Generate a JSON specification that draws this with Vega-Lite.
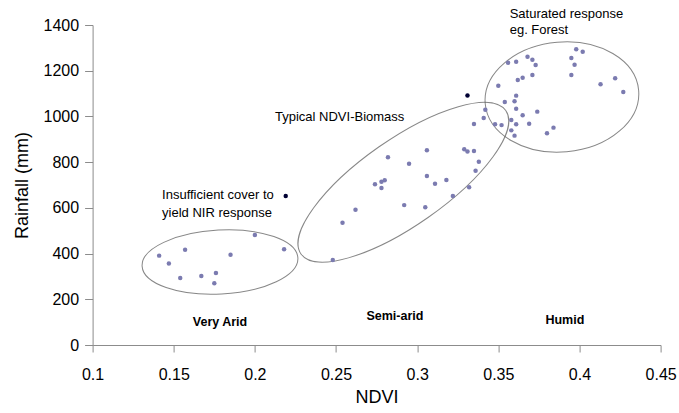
{
  "$schema": "https://vega.github.io/schema/vega-lite/v6.json",
  "width": 568,
  "height": 320,
  "autosize": "none",
  "padding": {"left": 92.6, "top": 25, "right": 18.4, "bottom": 68},
  "background": "white",
  "config": {
    "view": {"stroke": null},
    "font": "Liberation Sans",
    "axis": {
      "grid": false,
      "domainColor": "#8c8c8c",
      "tickColor": "#8c8c8c",
      "labelColor": "#000000",
      "titleColor": "#000000",
      "labelFont": "Liberation Sans",
      "titleFont": "Liberation Sans",
      "labelFontSize": 16,
      "titleFontSize": 18,
      "titleFontWeight": "normal",
      "labelOverlap": false,
      "labelFlush": false
    }
  },
  "datasets": {
    "samples": [
      {"ndvi": 0.141, "rainfall": 391, "kind": "sample"},
      {"ndvi": 0.147, "rainfall": 357, "kind": "sample"},
      {"ndvi": 0.157, "rainfall": 417, "kind": "sample"},
      {"ndvi": 0.154, "rainfall": 293, "kind": "sample"},
      {"ndvi": 0.167, "rainfall": 302, "kind": "sample"},
      {"ndvi": 0.176, "rainfall": 315, "kind": "sample"},
      {"ndvi": 0.175, "rainfall": 270, "kind": "sample"},
      {"ndvi": 0.185, "rainfall": 395, "kind": "sample"},
      {"ndvi": 0.2, "rainfall": 481, "kind": "sample"},
      {"ndvi": 0.218, "rainfall": 419, "kind": "sample"},
      {"ndvi": 0.248, "rainfall": 372, "kind": "sample"},
      {"ndvi": 0.254, "rainfall": 535, "kind": "sample"},
      {"ndvi": 0.262, "rainfall": 592, "kind": "sample"},
      {"ndvi": 0.274, "rainfall": 703, "kind": "sample"},
      {"ndvi": 0.278, "rainfall": 714, "kind": "sample"},
      {"ndvi": 0.28, "rainfall": 721, "kind": "sample"},
      {"ndvi": 0.278, "rainfall": 687, "kind": "sample"},
      {"ndvi": 0.282, "rainfall": 821, "kind": "sample"},
      {"ndvi": 0.295, "rainfall": 793, "kind": "sample"},
      {"ndvi": 0.306, "rainfall": 852, "kind": "sample"},
      {"ndvi": 0.306, "rainfall": 739, "kind": "sample"},
      {"ndvi": 0.292, "rainfall": 612, "kind": "sample"},
      {"ndvi": 0.305, "rainfall": 603, "kind": "sample"},
      {"ndvi": 0.311, "rainfall": 705, "kind": "sample"},
      {"ndvi": 0.318, "rainfall": 722, "kind": "sample"},
      {"ndvi": 0.322, "rainfall": 652, "kind": "sample"},
      {"ndvi": 0.332, "rainfall": 690, "kind": "sample"},
      {"ndvi": 0.336, "rainfall": 762, "kind": "sample"},
      {"ndvi": 0.338, "rainfall": 802, "kind": "sample"},
      {"ndvi": 0.329, "rainfall": 856, "kind": "sample"},
      {"ndvi": 0.331, "rainfall": 847, "kind": "sample"},
      {"ndvi": 0.335, "rainfall": 849, "kind": "sample"},
      {"ndvi": 0.335, "rainfall": 967, "kind": "sample"},
      {"ndvi": 0.341, "rainfall": 993, "kind": "sample"},
      {"ndvi": 0.342, "rainfall": 1029, "kind": "sample"},
      {"ndvi": 0.398, "rainfall": 1294, "kind": "sample"},
      {"ndvi": 0.402, "rainfall": 1283, "kind": "sample"},
      {"ndvi": 0.356, "rainfall": 1235, "kind": "sample"},
      {"ndvi": 0.361, "rainfall": 1239, "kind": "sample"},
      {"ndvi": 0.368, "rainfall": 1261, "kind": "sample"},
      {"ndvi": 0.371, "rainfall": 1248, "kind": "sample"},
      {"ndvi": 0.373, "rainfall": 1225, "kind": "sample"},
      {"ndvi": 0.395, "rainfall": 1256, "kind": "sample"},
      {"ndvi": 0.397, "rainfall": 1226, "kind": "sample"},
      {"ndvi": 0.395, "rainfall": 1181, "kind": "sample"},
      {"ndvi": 0.371, "rainfall": 1181, "kind": "sample"},
      {"ndvi": 0.362, "rainfall": 1159, "kind": "sample"},
      {"ndvi": 0.365, "rainfall": 1169, "kind": "sample"},
      {"ndvi": 0.35, "rainfall": 1134, "kind": "sample"},
      {"ndvi": 0.413, "rainfall": 1141, "kind": "sample"},
      {"ndvi": 0.422, "rainfall": 1167, "kind": "sample"},
      {"ndvi": 0.427, "rainfall": 1107, "kind": "sample"},
      {"ndvi": 0.361, "rainfall": 1091, "kind": "sample"},
      {"ndvi": 0.354, "rainfall": 1063, "kind": "sample"},
      {"ndvi": 0.36, "rainfall": 1066, "kind": "sample"},
      {"ndvi": 0.361, "rainfall": 1034, "kind": "sample"},
      {"ndvi": 0.374, "rainfall": 1021, "kind": "sample"},
      {"ndvi": 0.365, "rainfall": 1005, "kind": "sample"},
      {"ndvi": 0.358, "rainfall": 984, "kind": "sample"},
      {"ndvi": 0.348, "rainfall": 966, "kind": "sample"},
      {"ndvi": 0.352, "rainfall": 962, "kind": "sample"},
      {"ndvi": 0.361, "rainfall": 966, "kind": "sample"},
      {"ndvi": 0.369, "rainfall": 968, "kind": "sample"},
      {"ndvi": 0.358, "rainfall": 939, "kind": "sample"},
      {"ndvi": 0.36, "rainfall": 916, "kind": "sample"},
      {"ndvi": 0.384, "rainfall": 951, "kind": "sample"},
      {"ndvi": 0.38, "rainfall": 926, "kind": "sample"},
      {"ndvi": 0.219, "rainfall": 652, "kind": "outlier"},
      {"ndvi": 0.331, "rainfall": 1092, "kind": "outlier"}
    ],
    "zones": [
      {"zone": "arid", "ndvi": 0.1785, "rainfall": 363},
      {"zone": "semiarid", "ndvi": 0.2915, "rainfall": 712},
      {"zone": "humid", "ndvi": 0.3892, "rainfall": 1085}
    ],
    "notes": [
      {"label": "Saturated response", "ndvi": 0.357, "rainfall": 1448},
      {"label": "eg. Forest", "ndvi": 0.357, "rainfall": 1378},
      {"label": "Typical NDVI-Biomass", "ndvi": 0.2124, "rainfall": 997},
      {"label": "Insufficient cover to", "ndvi": 0.1428, "rainfall": 656},
      {"label": "yield NIR response", "ndvi": 0.1428, "rainfall": 577}
    ],
    "zoneLabels": [
      {"label": "Very Arid", "ndvi": 0.1785, "rainfall": 101},
      {"label": "Semi-arid", "ndvi": 0.2863, "rainfall": 127},
      {"label": "Humid", "ndvi": 0.391, "rainfall": 109}
    ]
  },
  "encoding": {
    "x": {
      "field": "ndvi",
      "type": "quantitative",
      "scale": {"domain": [0.1, 0.45], "nice": false, "zero": false},
      "axis": {
        "title": "NDVI",
        "values": [0.1, 0.15, 0.2, 0.25, 0.3, 0.35, 0.4, 0.45],
        "format": "~g",
        "tickSize": 7,
        "labelPadding": 14,
        "titlePadding": 6
      }
    },
    "y": {
      "field": "rainfall",
      "type": "quantitative",
      "scale": {"domain": [0, 1400], "nice": false},
      "axis": {
        "title": "Rainfall (mm)",
        "values": [0, 200, 400, 600, 800, 1000, 1200, 1400],
        "format": "d",
        "tickSize": 8,
        "labelPadding": 6,
        "titlePadding": 12
      }
    }
  },
  "layer": [
    {
      "data": {"name": "zones"},
      "transform": [{"filter": "datum.zone === 'arid'"}],
      "mark": {
        "type": "point",
        "filled": false,
        "stroke": "#555555",
        "strokeWidth": 1,
        "size": 24336,
        "angle": -3,
        "shape": "M -1 0 C -1 -0.2265 -0.5523 -0.41 0 -0.41 C 0.5523 -0.41 1 -0.2265 1 0 C 1 0.2265 0.5523 0.41 0 0.41 C -0.5523 0.41 -1 0.2265 -1 0 Z"
      }
    },
    {
      "data": {"name": "zones"},
      "transform": [{"filter": "datum.zone === 'semiarid'"}],
      "mark": {
        "type": "point",
        "filled": false,
        "stroke": "#555555",
        "strokeWidth": 1,
        "size": 62500,
        "angle": -35,
        "shape": "M -1 0 C -1 -0.19 -0.5523 -0.344 0 -0.344 C 0.5523 -0.344 1 -0.19 1 0 C 1 0.19 0.5523 0.344 0 0.344 C -0.5523 0.344 -1 0.19 -1 0 Z"
      }
    },
    {
      "data": {"name": "zones"},
      "transform": [{"filter": "datum.zone === 'humid'"}],
      "mark": {
        "type": "point",
        "filled": false,
        "stroke": "#555555",
        "strokeWidth": 1,
        "size": 23716,
        "angle": -5,
        "shape": "M -1 0 C -1 -0.3943 -0.5523 -0.714 0 -0.714 C 0.5523 -0.714 1 -0.3943 1 0 C 1 0.3943 0.5523 0.714 0 0.714 C -0.5523 0.714 -1 0.3943 -1 0 Z"
      }
    },
    {
      "data": {"name": "samples"},
      "mark": {"type": "point", "shape": "circle", "filled": true, "size": 20, "opacity": 1},
      "encoding": {
        "color": {
          "field": "kind",
          "type": "nominal",
          "scale": {"domain": ["sample", "outlier"], "range": ["#7b7bb0", "#000033"]},
          "legend": null
        }
      }
    },
    {
      "data": {"name": "notes"},
      "mark": {"type": "text", "align": "left", "baseline": "middle", "font": "Liberation Sans", "fontSize": 13, "color": "#000000"},
      "encoding": {"text": {"field": "label"}}
    },
    {
      "data": {"name": "zoneLabels"},
      "mark": {"type": "text", "align": "center", "baseline": "middle", "font": "Liberation Sans", "fontSize": 12.5, "fontWeight": "bold", "color": "#000000"},
      "encoding": {"text": {"field": "label"}}
    }
  ]
}
